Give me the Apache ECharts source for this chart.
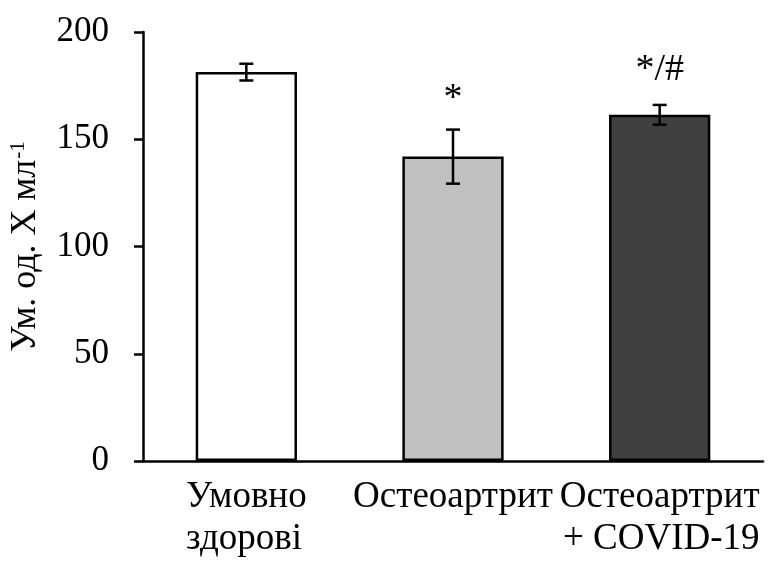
<!DOCTYPE html>
<html>
<head>
<meta charset="utf-8">
<script src="https://cdn.jsdelivr.net/npm/echarts@6/dist/echarts.min.js"></script>
<style>html,body{margin:0;padding:0;background:#fff}#c{width:768px;height:564px}</style>
</head>
<body>
<div id="c"></div>
<script>
const categories = ['Умовно\nздорові', 'Остеоартрит', 'Остеоартрит\n+ COVID-19'];
const values = [181.3, 141.9, 161.4];
const errors = [3.9, 12.6, 4.6];
const marks = ['', '*', '*/#'];
const barColors = ['#ffffff', '#c0c0c0', '#404040'];
const yMin = 0, yMax = 200, yStep = 50;
const yTitle = 'Ум. од. Х мл';
const yTitleSup = '-1';

const FONT = '"Liberation Serif", "Times New Roman", serif';
const chart = echarts.init(document.getElementById('c'), null, {renderer: 'canvas'});

const barData = values.map((v, i) => ({value: v, itemStyle: {color: barColors[i]}}));
const errData = values.map((v, i) => [i, v + errors[i], v - errors[i]]);
const lineAlign = ['l', 'c', 'r'];
const XF = 37, XLH = 42;

chart.setOption({
  animation: false,
  backgroundColor: '#fff',
  grid: {left: 141, right: 5, top: 32, bottom: 103, containLabel: false},
  xAxis: {
    type: 'category',
    data: categories,
    axisLine: {lineStyle: {color: '#000', width: 2.5}},
    axisTick: {alignWithLabel: true, length: 8, lineStyle: {color: '#000', width: 2.5}},
    axisLabel: {
      margin: 15,
      color: '#000',
      fontFamily: FONT,
      fontSize: XF,
      lineHeight: XLH,
      interval: 0,
      formatter: (val, idx) => val.split('\n').map(l => '{' + lineAlign[idx] + '|' + l + '}').join('\n'),
      rich: {
        l: {align: 'left', fontFamily: FONT, fontSize: XF, lineHeight: XLH, color: '#000'},
        c: {align: 'center', fontFamily: FONT, fontSize: XF, lineHeight: XLH, color: '#000'},
        r: {align: 'right', fontFamily: FONT, fontSize: XF, lineHeight: XLH, color: '#000'}
      }
    }
  },
  yAxis: {
    type: 'value',
    min: yMin, max: yMax, interval: yStep,
    splitLine: {show: false},
    axisLine: {show: true, lineStyle: {color: '#000', width: 2.5}},
    axisTick: {show: true, length: 9, lineStyle: {color: '#000', width: 2.5}},
    axisLabel: {margin: 34, color: '#000', fontFamily: FONT, fontSize: 35},
    name: '{t|' + yTitle + '}{s|' + yTitleSup + '}',
    nameLocation: 'middle',
    nameGap: 99,
    nameTextStyle: {
      color: '#000', fontFamily: FONT, fontSize: 36,
      rich: {
        t: {fontFamily: FONT, fontSize: 36, color: '#000', verticalAlign: 'bottom'},
        s: {fontFamily: FONT, fontSize: 21, color: '#000', verticalAlign: 'top', padding: [0, 0, 0, 1]}
      }
    }
  },
  series: [
    {
      type: 'bar',
      data: barData,
      barWidth: '49%',
      itemStyle: {borderColor: '#000', borderWidth: 2.5}
    },
    {
      type: 'custom',
      data: errData,
      z: 10,
      renderItem: function (params, api) {
        const i = params.dataIndex;
        const top = api.coord([api.value(0), api.value(1)]);
        const bot = api.coord([api.value(0), api.value(2)]);
        const x = top[0];
        const w = 7;
        const st = {stroke: '#000', lineWidth: 2.5};
        return {
          type: 'group',
          children: [
            {type: 'line', shape: {x1: x, y1: top[1], x2: x, y2: bot[1]}, style: st},
            {type: 'line', shape: {x1: x - w, y1: top[1], x2: x + w, y2: top[1]}, style: st},
            {type: 'line', shape: {x1: x - w, y1: bot[1], x2: x + w, y2: bot[1]}, style: st},
            {type: 'text', x: x, y: top[1] - (i === 2 ? 16 : 12), style: {
              text: marks[i], fill: '#000', font: '38px ' + FONT,
              textAlign: 'center', textVerticalAlign: 'bottom'
            }}
          ]
        };
      }
    }
  ]
});
</script>
</body>
</html>
